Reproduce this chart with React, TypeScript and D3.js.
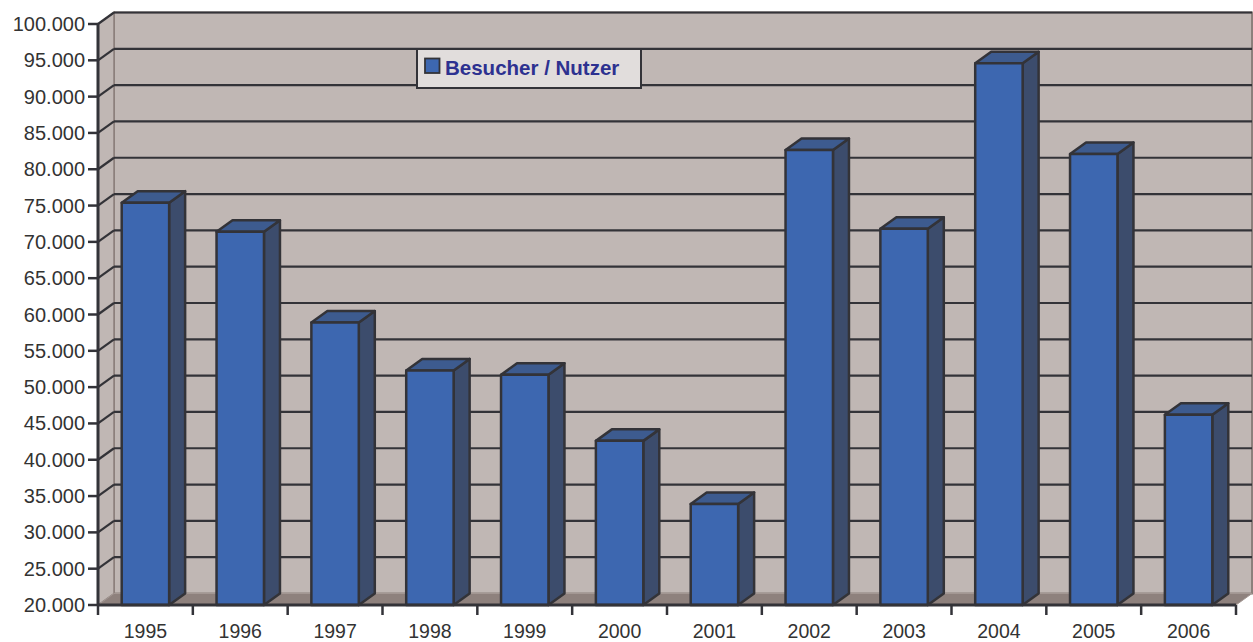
import React from "react";
import * as d3 from "d3";

const years = ["1995","1996","1997","1998","1999","2000","2001","2002","2003","2004","2005","2006"];
const visitors = [75400, 71400, 58900, 52300, 51700, 42600, 33900, 82650, 71800, 94600, 82100, 46200];
const yTicks = [20000,25000,30000,35000,40000,45000,50000,55000,60000,65000,70000,75000,80000,85000,90000,95000,100000];
const seriesName = "Besucher / Nutzer";

const W = 1253, H = 642;
const DX = 16, DY = -11.5;
const X0 = 98, X1 = 1236, Y0 = 605, Y1 = 24;

const fmt = (v: number) => {
  const s = String(v);
  return s.slice(0, s.length - 3) + "." + s.slice(s.length - 3);
};

export default function App() {
  const x = d3.scaleBand<string>().domain(years).range([X0, X1]).padding(0);
  const y = d3.scaleLinear().domain([20000, 100000]).range([Y0, Y1]);
  const bw = x.bandwidth();
  const font = "'Liberation Sans', Arial, Helvetica, sans-serif";
  const line = "#333338";
  const wallFill = "#c0b7b4";
  const edge = "#8c807c";

  return (
    <svg width={W} height={H} style={{ position: "absolute", left: 0, top: 0 }}>
      <rect x={0} y={0} width={W} height={H} fill="#ffffff" />
      {/* back wall */}
      <rect x={X0 + DX} y={Y1 + DY} width={X1 - X0} height={Y0 - Y1} fill={wallFill} stroke={edge} strokeWidth={2} />
      {/* left wall */}
      <polygon
        points={`${X0},${Y1} ${X0 + DX},${Y1 + DY} ${X0 + DX},${Y0 + DY} ${X0},${Y0}`}
        fill={wallFill}
        stroke={edge}
        strokeWidth={1.5}
      />
      {/* floor */}
      <polygon
        points={`${X0},${Y0} ${X1},${Y0} ${X1 + DX},${Y0 + DY} ${X0 + DX},${Y0 + DY}`}
        fill="#8e817d"
        stroke="#a39793"
        strokeWidth={1}
      />
      {/* gridlines */}
      {yTicks.filter((t) => t > 20000).map((t) => (
        <g key={t}>
          <line x1={X0 + DX} x2={X1 + DX} y1={y(t) + DY} y2={y(t) + DY} stroke={line} strokeWidth={2.2} />
          <line x1={X0} x2={X0 + DX} y1={y(t)} y2={y(t) + DY} stroke={line} strokeWidth={2.2} />
        </g>
      ))}
      {/* legend */}
      <rect x={417} y={49} width={224} height={39} fill="#e1dddc" stroke={line} strokeWidth={2} />
      <rect x={425} y={58.5} width={14.5} height={14.5} fill="#3d67b0" stroke={line} strokeWidth={1.8} />
      <text x={445} y={74.5} fontFamily={font} fontWeight="bold" fontSize={20.5} fill="#2d3190">{seriesName}</text>
      {/* bars */}
      {years.map((yr, i) => {
        const bx0 = (x(yr) as number) + bw / 4;
        const bx1 = bx0 + bw / 2;
        const top = y(visitors[i]);
        return (
          <g key={yr} stroke={line} strokeWidth={2.5} strokeLinejoin="round">
            <polygon
              points={`${bx1},${top} ${bx1 + DX},${top + DY} ${bx1 + DX},${Y0 + DY} ${bx1},${Y0}`}
              fill="#3c4c6c"
            />
            <polygon
              points={`${bx0},${top} ${bx0 + DX},${top + DY} ${bx1 + DX},${top + DY} ${bx1},${top}`}
              fill="#3d5b8f"
            />
            <rect x={bx0} y={top} width={bx1 - bx0} height={Y0 - top} fill="#3d67b0" />
          </g>
        );
      })}
      {/* axes */}
      <line x1={X0} x2={X0} y1={Y1} y2={Y0} stroke={line} strokeWidth={3} />
      <line x1={X0} x2={X1} y1={Y0} y2={Y0} stroke={line} strokeWidth={3} />
      {yTicks.map((t) => (
        <g key={t}>
          <line x1={X0 - 10} x2={X0} y1={y(t)} y2={y(t)} stroke={line} strokeWidth={2.5} />
          <text x={85} y={y(t) + 7} textAnchor="end" fontFamily={font} fontSize={20} fill="#333">{fmt(t)}</text>
        </g>
      ))}
      {[...years.map((yr) => x(yr) as number), X1].map((px, i) => (
        <line key={i} x1={px} x2={px} y1={Y0} y2={Y0 + 10} stroke={line} strokeWidth={2.5} />
      ))}
      {years.map((yr) => (
        <text key={yr} x={(x(yr) as number) + bw / 2} y={637.5} textAnchor="middle" fontFamily={font} fontSize={19.5} fill="#333">{yr}</text>
      ))}
    </svg>
  );
}
